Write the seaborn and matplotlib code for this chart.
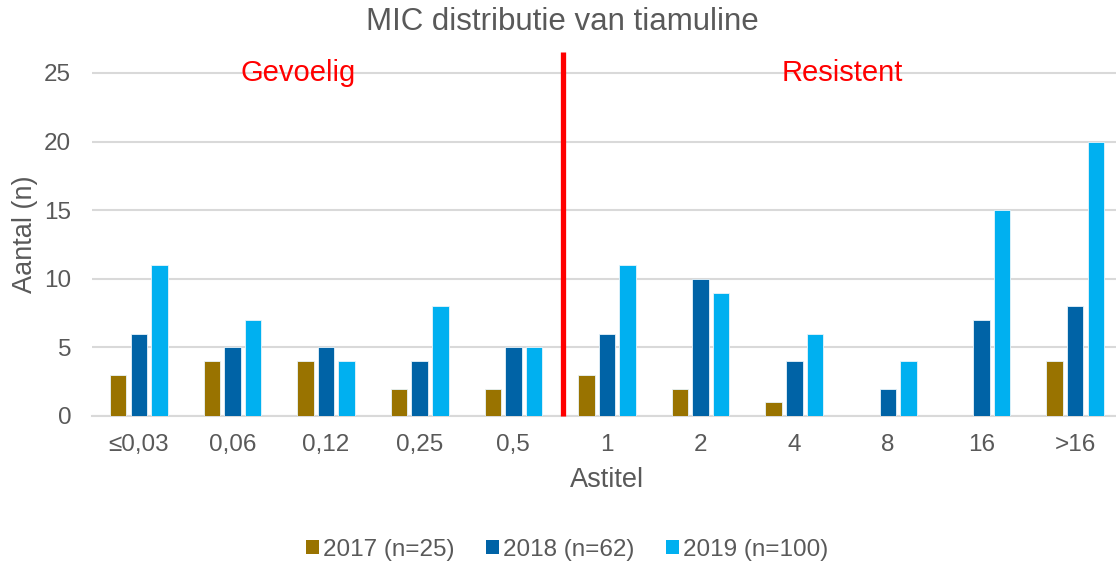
import matplotlib
matplotlib.use("Agg")
import matplotlib.pyplot as plt
import seaborn as sns
import pandas as pd
from matplotlib.patches import Patch

categories = ["≤0,03", "0,06", "0,12", "0,25", "0,5", "1", "2", "4", "8", "16", ">16"]
series_names = ["2017 (n=25)", "2018 (n=62)", "2019 (n=100)"]
v2017 = [3, 4, 4, 2, 2, 3, 2, 1, 0, 0, 4]
v2018 = [6, 5, 5, 4, 5, 6, 10, 4, 2, 7, 8]
v2019 = [11, 7, 4, 8, 5, 11, 9, 6, 4, 15, 20]
colors = ["#997300", "#0063A6", "#00B0F0"]
yticks = [0, 5, 10, 15, 20, 25]

sns.set_theme(style="white")
plt.rcParams['font.family'] = ['Liberation Sans', 'DejaVu Sans']
gray = "#595959"

rows = []
for name, vals in zip(series_names, [v2017, v2018, v2019]):
    for c, v in zip(categories, vals):
        rows.append({"cat": c, "series": name, "val": v})
df = pd.DataFrame(rows)

fig = plt.figure(figsize=(11.16, 5.64), dpi=100)
ax = fig.add_axes([92/1116, 1-416/564, (1122-92)/1116, (416-52)/564])

sns.barplot(data=df, x="cat", y="val", hue="series", order=categories,
            hue_order=series_names, palette=colors, saturation=1, width=0.66, gap=0.2,
            edgecolor="#E8F4FA", linewidth=0.6, ax=ax, legend=False, zorder=3)

ax.set_ylim(0, 26.53)
ax.set_xlim(-0.5, len(categories) - 0.5)
ax.set_yticks(yticks)
ax.set_yticklabels([str(t) for t in yticks])
ax.grid(axis="y", color="#D9D9D9", linewidth=1.5, zorder=0)
ax.grid(axis="x", visible=False)
for s in ["top", "right", "left"]:
    ax.spines[s].set_visible(False)
ax.spines["bottom"].set_color("#D9D9D9")
ax.spines["bottom"].set_linewidth(1.5)
ax.tick_params(axis="both", length=0, labelsize=17.5, colors=gray)
ax.tick_params(axis="x", pad=13)
ax.tick_params(axis="y", pad=15)

ax.set_xlabel("Astitel", fontsize=19.5, color=gray, labelpad=8)
ax.set_ylabel("Aantal (n)", fontsize=19.5, color=gray, labelpad=4)

ax.plot([4.53, 4.53], [0, 26.53], color="#FF0000", linewidth=3.8, zorder=4,
        clip_on=False, solid_capstyle="butt")
ax.text(1.70, 25, "Gevoelig", color="#FF0000", fontsize=21, ha="center", va="center", zorder=5)
ax.text(7.51, 25, "Resistent", color="#FF0000", fontsize=21, ha="center", va="center", zorder=5)

fig.text(562/1116, 1-22/564, "MIC distributie van tiamuline", fontsize=22.5,
         color=gray, ha="center", va="center")

handles = [Patch(facecolor=c, edgecolor="none", label=n) for c, n in zip(colors, series_names)]
fig.legend(handles=handles, loc="center", bbox_to_anchor=(567.5/1116, 1-550/564), ncol=3,
           frameon=False, fontsize=17.5, labelcolor=gray, handlelength=0.51, handleheight=0.51,
           handletextpad=0.19, columnspacing=1.3)

fig.savefig("out.png", dpi=100)
